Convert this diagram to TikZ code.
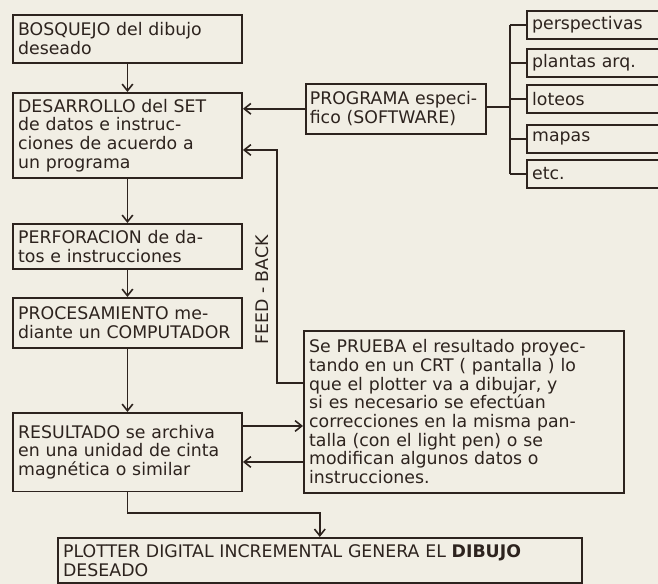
\documentclass[tikz,border=0pt]{standalone}
\usepackage{fontspec}
\setmainfont{DejaVu Sans}
\usetikzlibrary{arrows.meta}
\definecolor{papel}{RGB}{241,238,228}
\definecolor{tinta}{RGB}{45,35,30}
\tikzset{
  caja/.style={draw=tinta, text=tinta, line width=1.2pt, anchor=north west,
    align=left, inner sep=4pt, font=\fontsize{13}{14}\selectfont},
  izq/.style={caja, text width=164pt},
  lista/.style={caja, text width=110pt, minimum height=21pt},
  linea/.style={draw=tinta, line width=1.2pt}
}
\begin{document}
\begin{tikzpicture}[x=0.75pt, y=-0.75pt, >={Straight Barb[length=5pt,width=8pt]}]
          % Fondo
          \useasboundingbox (0,0) rectangle (658,584);
          \fill[papel] (0,0) rectangle (658,584);
          \clip (0,0) rectangle (658,584);

          % Columna izquierda
          \node[izq, minimum height=36pt] (bosquejo) at (12,14)
            {BOSQUEJO del dibujo\\deseado};
          \node[izq, minimum height=64pt] (desarrollo) at (12,92)
            {DESARROLLO del SET\\de datos e instruc-\\ciones de acuerdo a\\un programa};
          \node[izq, minimum height=34pt] (perforacion) at (12,223)
            {PERFORACION de da-\\tos e instrucciones};
          \node[izq, minimum height=37.5pt] (procesamiento) at (12,297)
            {PROCESAMIENTO me-\\diante un COMPUTADOR};
          \node[izq, minimum height=59pt] (resultado) at (12,412)
            {RESULTADO se archiva\\en una unidad de cinta\\magnética o similar};

          % Prueba en pantalla
          \node[caja, text width=232pt, minimum height=121.5pt] (prueba) at (303,330)
            {Se PRUEBA el resultado proyec-\\tando en un CRT ( pantalla ) lo\\que el plotter va a dibujar, y\\si es necesario se efectúan\\correcciones en la misma pan-\\talla (con el light pen) o se\\modifican algunos datos o\\instrucciones.};

          % Plotter
          \node[caja, text width=385pt, minimum height=34pt] (plotter) at (57,537)
            {PLOTTER DIGITAL INCREMENTAL GENERA EL \textbf{DIBUJO}\\DESEADO};

          % Programa y tipos
          \node[caja, inner sep=3pt, text width=129pt, minimum height=37.5pt] (programa) at (305,83)
            {PROGRAMA especi-\\fico (SOFTWARE)};
          \node[lista] (perspectivas) at (526,10) {perspectivas};
          \node[lista] (plantas) at (526,48) {plantas arq.};
          \node[lista] (loteos) at (526,84) {loteos};
          \node[lista] (mapas) at (526,124) {mapas};
          \node[lista] (etc) at (526,159) {etc.};

          % Flechas verticales
          \draw[linea, ->] (bosquejo) -- (desarrollo);
          \draw[linea, ->] (desarrollo) -- (perforacion);
          \draw[linea, ->] (perforacion) -- (procesamiento);
          \draw[linea, ->] (procesamiento) -- (resultado);

          % Programa -> desarrollo
          \draw[linea, ->] (programa.west) -- (programa.west -| desarrollo.east);

          % Llave de tipos
          \coordinate (llave) at (510,107);
          \draw[linea] (programa.east |- llave) -- (llave);
          \draw[linea] (llave |- perspectivas.west) -- (llave |- etc.west);
          \foreach \t in {perspectivas, plantas, loteos, mapas, etc}
            \draw[linea] (llave |- \t.west) -- (\t.west);

          % Feed-back
          \coordinate (fbarriba) at (277,150);
          \coordinate (fbabajo) at (277,383);
          \draw[linea, ->] (prueba.west |- fbabajo) -- (fbabajo) -- (fbarriba)
            -- (desarrollo.east |- fbarriba);
          \node[text=tinta, rotate=90, font=\fontsize{13}{14}\selectfont] (feedback) at (262,290)
            {FEED - BACK};

          % Resultado <-> prueba
          \coordinate (ida) at (0,426);
          \coordinate (vuelta) at (0,462);
          \draw[linea, ->] (resultado.east |- ida) -- (prueba.west |- ida);
          \draw[linea, ->] (prueba.west |- vuelta) -- (resultado.east |- vuelta);

          % Resultado -> plotter
          \coordinate (codo) at (plotter.north |- 0,513);
          \draw[linea, ->] (resultado.south) -- (resultado.south |- codo) -- (codo)
            -- (plotter.north);
\end{tikzpicture}
\end{document}
